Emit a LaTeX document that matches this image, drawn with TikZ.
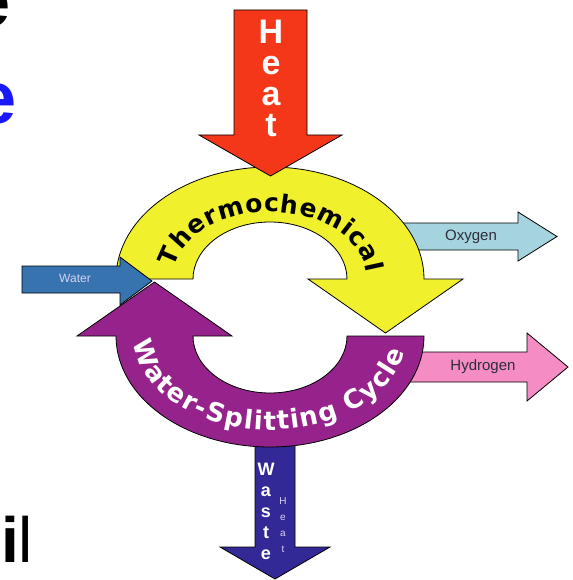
\documentclass[tikz,border=0pt]{standalone}
\usepackage{fontspec}
\setmainfont{Liberation Sans}
\newfontfamily\heavyfont{DejaVu Sans}
\usetikzlibrary{decorations.text}
\definecolor{myred}{RGB}{245,55,25}
\definecolor{myyellow}{RGB}{240,240,45}
\definecolor{mypurple}{RGB}{150,35,140}
\definecolor{mywater}{RGB}{55,115,175}
\definecolor{mycyan}{RGB}{165,212,222}
\definecolor{mypink}{RGB}{245,140,195}
\definecolor{myindigo}{RGB}{50,40,150}
\definecolor{myblue}{RGB}{25,25,250}
\definecolor{mygrey}{RGB}{45,45,60}
\definecolor{mylilac}{RGB}{215,210,240}
\newcommand\thermofont{\heavyfont\bfseries\fontsize{25}{25}\selectfont}
\newcommand\cyclefont{\heavyfont\bfseries\fontsize{26}{26}\selectfont}

\begin{document}
\begin{tikzpicture}[x=1pt,y=1pt]
\tikzset{block/.style={draw=black, line width=0.8pt, line join=miter}}
\tikzset{tag/.style={inner sep=0, font=\fontsize{15}{15}\selectfont, text=mygrey}}
\tikzset{stack/.style={inner sep=0, anchor=north, align=center, text=white}}
\useasboundingbox (0,0) rectangle (572,-580);
\node[anchor=base east, inner sep=0, font=\bfseries\fontsize{74}{74}\selectfont] (titleA) at (11,-27) {e};
\node[anchor=base east, inner sep=0, font=\bfseries\fontsize{74}{74}\selectfont, text=myblue] (titleB) at (17,-124) {e};
\node[anchor=base west, inner sep=0, font=\fontsize{64}{64}\selectfont] (titleC) at (1,-562) {\textbf{i}l};
\draw[block, fill=mycyan] (380,-223) -- (518,-223) -- (518,-212) -- (557,-236.5) -- (518,-261) -- (518,-250) -- (380,-250) -- cycle;
\draw[block, fill=mypink] (390,-352) -- (527,-352) -- (527,-333) -- (568,-367) -- (527,-401) -- (527,-382) -- (390,-382) -- cycle;
\draw[block, fill=myindigo] (255,-420) -- (295,-420) -- (295,-547) -- (330,-547) -- (275,-579) -- (220,-547) -- (255,-547) -- cycle;
\draw[block, fill=myyellow] (193,-279) -- (116,-279) arc[start angle=180, end angle=0, x radius=154, y radius=112] -- (463,-279) -- (385.5,-333) -- (308,-279) -- (347,-279) arc[start angle=0, end angle=180, x radius=77, y radius=57] -- cycle;
\draw[block, fill=mypurple] (347,-336) -- (424,-336) arc[start angle=0, end angle=-180, x radius=154, y radius=111] -- (77,-336) -- (154.5,-282) -- (232,-336) -- (193,-336) arc[start angle=180, end angle=360, x radius=77, y radius=57] -- cycle;
\draw[block, fill=mywater] (22,-266) -- (120,-266) -- (120,-257) -- (152,-281) -- (120,-305) -- (120,-293) -- (22,-293) -- cycle;
\draw[block, fill=myred] (234,-10) -- (307,-10) -- (307,-135) -- (342,-135) -- (270.5,-176) -- (199,-135) -- (234,-135) -- cycle;
\node[stack, font=\bfseries\fontsize{34}{31}\selectfont] (heat) at (271,-20) {H\\e\\a\\t};
\node[stack, font=\bfseries\fontsize{18}{21}\selectfont] (waste) at (266,-463) {W\\a\\s\\t\\e};
\node[stack, font=\fontsize{10}{16}\selectfont, text=mylilac] (wasteheat) at (283,-497) {H\\e\\a\\t};
\node[tag] (oxygen) at (471,-237) {Oxygen};
\node[tag] (hydrogen) at (483,-367) {Hydrogen};
\node[tag, font=\fontsize{12}{12}\selectfont, text=mylilac] (water) at (75,-278) {Water};
\path[decorate, decoration={text along path, text align={fit to path}, text color=black, text={|\thermofont|Thermochemical}}] (270,-279) ++(170:97 and 67) arc[start angle=170, end angle=5, x radius=97, y radius=67];
\path[decorate, decoration={text along path, text align={fit to path}, text color=white, text={|\cyclefont|Water-Splitting Cycle}}] (270,-336) ++(184:136 and 94) arc[start angle=184, end angle=350, x radius=136, y radius=94];
\end{tikzpicture}
\end{document}
